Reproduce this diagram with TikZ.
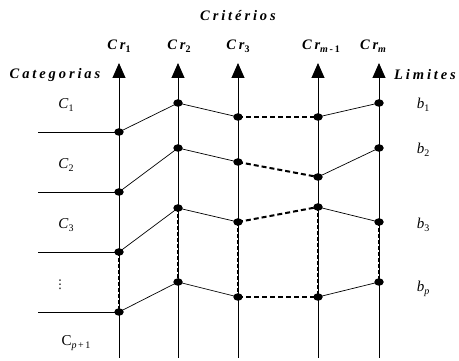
\documentclass[tikz,border=0pt]{standalone}
\usepackage{fontspec}
\setmainfont{Liberation Serif}
\newfontfamily\spacedfont[LetterSpace=20]{Liberation Serif}
\newfontfamily\dejavu{DejaVu Sans}
\usetikzlibrary{arrows.meta,shapes.geometric}
\newcommand{\sbs}[1]{\raisebox{-0.4ex}{\fontsize{10}{10}\selectfont #1}}
\tikzset{
  axisline/.style={line width=0.9pt,-{Triangle[width=13pt,length=15pt]}},
  link/.style={line width=0.7pt},
  hdashline/.style={line width=2pt,dash pattern=on 5pt off 3pt},
  vdashline/.style={line width=2.6pt,dash pattern=on 4pt off 2pt},
  dot/.style={ellipse,fill=black,inner sep=0pt,minimum width=9.5pt,minimum height=7.5pt},
  head/.style={font=\fontsize{14.5}{16}\selectfont\spacedfont\bfseries\itshape},
  lab/.style={font=\fontsize{15}{17}\selectfont\spacedfont\itshape},
}
\begin{document}
\begin{tikzpicture}[x=1pt,y=-1pt]
\useasboundingbox (0,0) rectangle (459,361);
% axes
\foreach \k/\x in {1/119,2/178,3/238,4/318,5/379}{
  \coordinate (bot\k) at (\x,358);
  \coordinate (top\k) at (\x,63);
}
\draw[axisline] (bot1) -- (top1);
\draw[axisline] (bot2) -- (top2);
\draw[axisline] (bot3) -- (top3);
\draw[axisline] (bot4) -- (top4);
\draw[axisline] (bot5) -- (top5);
% points
\node[dot] (p11) at (119,132) {};
\node[dot] (p12) at (119,192) {};
\node[dot] (p13) at (119,252) {};
\node[dot] (p14) at (119,312) {};
\node[dot] (p21) at (178,103) {};
\node[dot] (p22) at (178,148) {};
\node[dot] (p23) at (178,208) {};
\node[dot] (p24) at (178,282) {};
\node[dot] (p31) at (238,117) {};
\node[dot] (p32) at (238,162) {};
\node[dot] (p33) at (238,222) {};
\node[dot] (p34) at (238,297) {};
\node[dot] (p41) at (318,117) {};
\node[dot] (p42) at (318,177) {};
\node[dot] (p43) at (318,207) {};
\node[dot] (p44) at (318,297) {};
\node[dot] (p51) at (379,103) {};
\node[dot] (p52) at (379,148) {};
\node[dot] (p53) at (379,222) {};
\node[dot] (p54) at (379,282) {};
% left horizontal lines
\coordinate (l1) at (38,132);
\coordinate (l2) at (38,192);
\coordinate (l3) at (38,252);
\coordinate (l4) at (38,312);
\draw[link] (l1) -- (p11.center);
\draw[link] (l2) -- (p12.center);
\draw[link] (l3) -- (p13.center);
\draw[link] (l4) -- (p14.center);
% profiles
\draw[link] (p11.center) -- (p21.center) -- (p31.center);
\draw[link] (p12.center) -- (p22.center) -- (p32.center);
\draw[link] (p13.center) -- (p23.center) -- (p33.center);
\draw[link] (p14.center) -- (p24.center) -- (p34.center);
\draw[hdashline] (p31.center) -- (p41.center);
\draw[hdashline] (p32.center) -- (p42.center);
\draw[hdashline] (p33.center) -- (p43.center);
\draw[hdashline] (p34.center) -- (p44.center);
\draw[link] (p41.center) -- (p51.center);
\draw[link] (p42.center) -- (p52.center);
\draw[link] (p43.center) -- (p53.center);
\draw[link] (p44.center) -- (p54.center);
% vertical dashed
\draw[vdashline] (p13.center) -- (p14.center);
\draw[vdashline] (p23.center) -- (p24.center);
\draw[vdashline] (p33.center) -- (p34.center);
\draw[vdashline] (p43.center) -- (p44.center);
\draw[vdashline] (p53.center) -- (p54.center);
% labels
\node[head] (crit) at (238,16) {Critérios};
\node[head] (cr1) at (119,46) {Cr\sbs{\upshape 1}};
\node[head] (cr2) at (179,46) {Cr\sbs{\upshape 2}};
\node[head] (cr3) at (238,46) {Cr\sbs{\upshape 3}};
\node[head] (crm1) at (321,46) {Cr\sbs{m\upshape\,-1}};
\node[head] (crm) at (373,46) {Cr\sbs{m}};
\node[head] (cat) at (55,75) {Categorias};
\node[head] (lim) at (425,75) {Limites};
\node[lab] (c1) at (66,105) {C\sbs{\upshape 1}};
\node[lab] (c2) at (66,165) {C\sbs{\upshape 2}};
\node[lab] (c3) at (66,225) {C\sbs{\upshape 3}};
\node (vd) at (60,285) {\fontsize{12}{12}\selectfont\dejavu ⋮};
\node[lab] (cp1) at (76,343) {\upshape C\sbs{\itshape p\upshape\,+\,1}};
\node[lab] (b1) at (423,105) {b\sbs{\upshape 1}};
\node[lab] (b2) at (423,150) {b\sbs{\upshape 2}};
\node[lab] (b3) at (423,225) {b\sbs{\upshape 3}};
\node[lab] (bp) at (423,289) {b\sbs{p}};
\end{tikzpicture}
\end{document}
